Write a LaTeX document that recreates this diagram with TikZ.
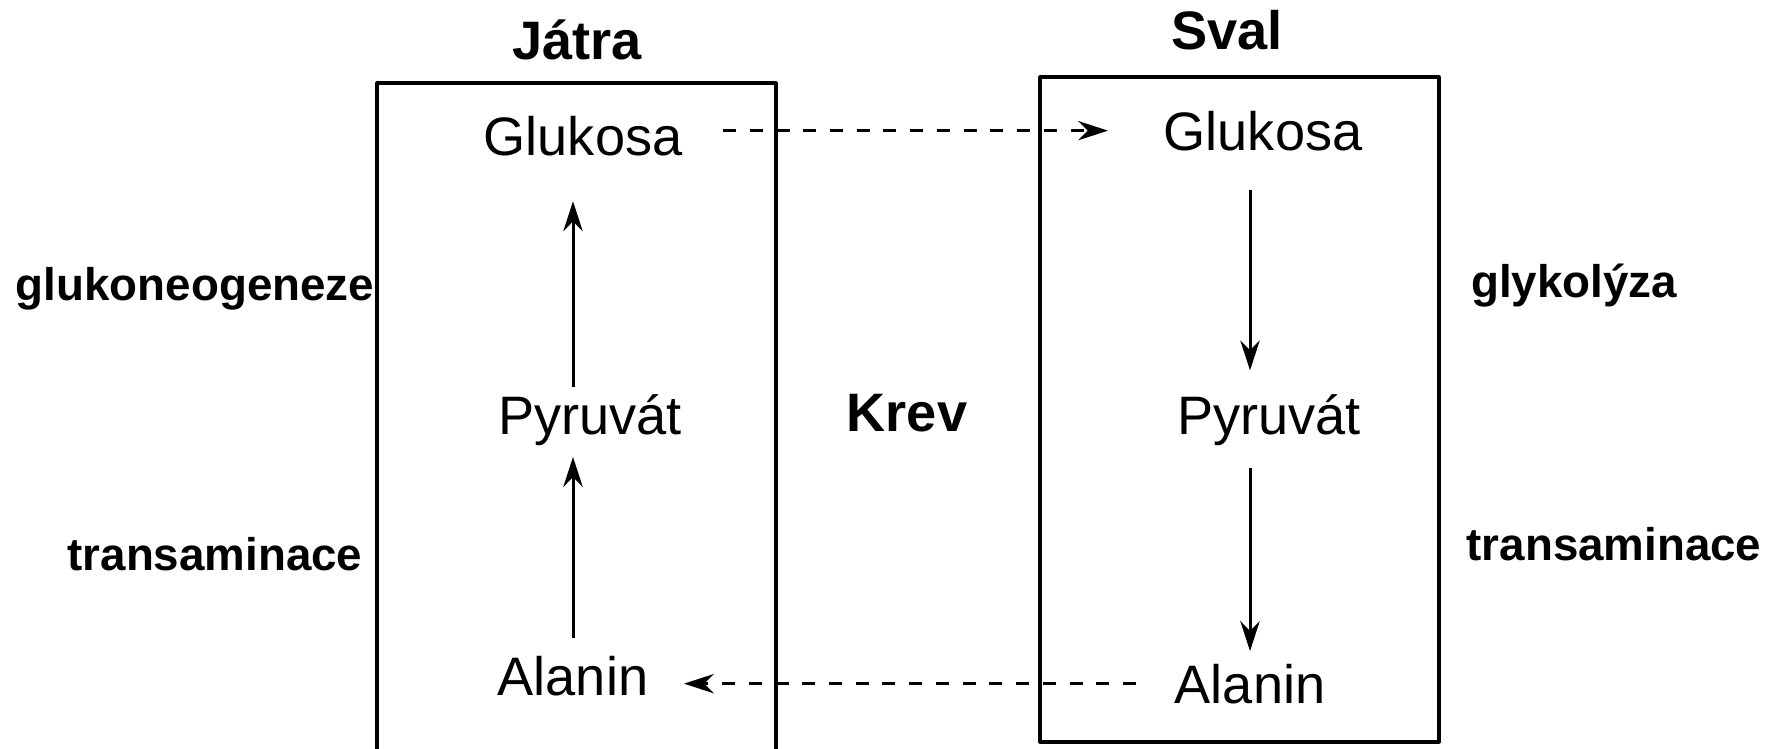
\documentclass[tikz,border=0pt]{standalone}
\usepackage{fontspec}
\setmainfont{Liberation Sans}
\usetikzlibrary{arrows.meta}

\begin{document}
\begin{tikzpicture}[x=0.01cm,y=-0.01cm, % one unit = one pixel, y runs down
    metab/.style={anchor=base,inner sep=0pt,font=\fontsize{15.4}{18}\selectfont},
    organ/.style={anchor=base,inner sep=0pt,font=\fontsize{15.4}{18}\selectfont\bfseries},
    proc/.style={anchor=base,inner sep=0pt,font=\fontsize{13}{16}\selectfont\bfseries},
    wall/.style={line width=0.9pt,line join=round},
    flow/.style={line width=0.85pt,-{Stealth[length=8.5pt,width=5.5pt]}},
    blood/.style={flow,dash pattern=on 3.7pt off 3.9pt}]

\useasboundingbox (0,0) rectangle (1777,748);

% the two organs
\draw[wall] (377,770) -- (377,83) -- (776,83) -- (776,770); % liver, open at the bottom
\draw[wall] (1040,77) rectangle (1439,742); % muscle

% liver
\node[organ] (jatra) at (577,59) {Játra};
\node[metab] (lglu) at (583,155) {Glukosa};
\node[metab] (lpyr) at (590,434) {Pyruvát};
\node[metab] (lala) at (573,695) {Alanin};

% muscle
\node[organ] (sval) at (1227,49) {Sval};
\node[metab] (rglu) at (1263,150) {Glukosa};
\node[metab] (rpyr) at (1269,434) {Pyruvát};
\node[metab] (rala) at (1250,703) {Alanin};

% blood in between
\node[organ] (krev) at (907,431) {Krev};

% pathways
\node[proc] (gng) at (195,300) {glukoneogeneze};
\node[proc] (ltra) at (215,570) {transaminace};
\node[proc] (glyk) at (1574,297) {glykolýza};
\node[proc] (rtra) at (1614,560) {transaminace};

% liver arrows go up
\draw[flow,shorten <=0.17cm,shorten >=0.11cm] (lala.north) -- (lala.north |- lpyr.south);
\draw[flow,shorten <=0.06cm,shorten >=0.45cm] (lpyr.north -| lala) -- (lala |- lglu.south);

% muscle arrows go down
\draw[flow,shorten <=0.39cm,shorten >=0.23cm] (rglu.south -| rala) -- (rpyr.north -| rala);
\draw[flow,shorten <=0.22cm,shorten >=0.12cm] (rpyr.south -| rala) -- (rala.north);

% exchange through the blood
\draw[blood] ([xshift=0.4cm,yshift=0.05cm]lglu.east) -- ([xshift=-0.55cm,yshift=0.05cm]lglu.east -| rglu.west);
\draw[blood] ([xshift=-0.38cm]rala.west) -- ([xshift=0.35cm]rala.west -| lala.east);

\end{tikzpicture}
\end{document}
